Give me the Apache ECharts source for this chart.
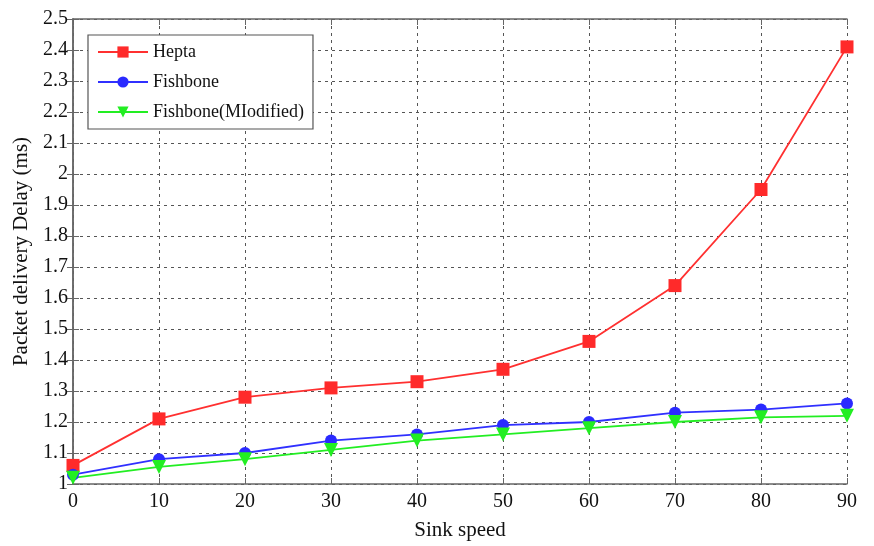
<!DOCTYPE html>
<html><head><meta charset="utf-8">
<script src="https://cdn.jsdelivr.net/npm/echarts@6/dist/echarts.min.js"></script>
<style>html,body{margin:0;padding:0;background:#fff}#c{width:874px;height:546px}</style>
</head><body><div id="c"></div>
<script>
const sinkSpeed = [0, 10, 20, 30, 40, 50, 60, 70, 80, 90];
const hepta = [1.06, 1.21, 1.28, 1.31, 1.33, 1.37, 1.46, 1.64, 1.95, 2.41];
const fishbone = [1.03, 1.08, 1.10, 1.14, 1.16, 1.19, 1.20, 1.23, 1.24, 1.26];
const fishboneMod = [1.02, 1.055, 1.08, 1.11, 1.14, 1.16, 1.18, 1.20, 1.215, 1.22];
const seriesNames = ['Hepta', 'Fishbone', 'Fishbone(MIodified)'];

const font = 'Liberation Serif';
const pair = (arr) => sinkSpeed.map((x, i) => [x, arr[i]]);
const chart = echarts.init(document.getElementById('c'));
const gridLine = {show: true, lineStyle: {color: '#555', type: [3, 4], width: 1}};
const axisLine = {show: true, lineStyle: {color: '#666', width: 1.5}};
chart.setOption({
  animation: false,
  textStyle: {fontFamily: font},
  grid: {left: 73, right: 27, top: 19, bottom: 61, show: false},
  legend: {
    orient: 'vertical', left: 88, top: 35,
    padding: [8, 9, 8, 9], itemGap: 12, itemWidth: 50, itemHeight: 14,
    borderColor: '#555', borderWidth: 1.2, backgroundColor: '#fff',
    textStyle: {fontFamily: font, fontSize: 18, color: '#111'},
    data: seriesNames
  },
  xAxis: [{
    type: 'value', min: 0, max: 90, interval: 10,
    name: 'Sink speed', nameLocation: 'middle', nameGap: 36,
    nameTextStyle: {fontFamily: font, fontSize: 21, color: '#111'},
    axisLine: axisLine, axisTick: {show: true, inside: true, length: 6, lineStyle: {color: '#666'}},
    axisLabel: {fontFamily: font, fontSize: 20, color: '#111', margin: 8},
    splitLine: gridLine
  }, {
    type: 'value', min: 0, max: 90, interval: 10, position: 'top',
    axisLine: axisLine, axisTick: {show: true, inside: true, length: 6, lineStyle: {color: '#666'}},
    axisLabel: {show: false}, splitLine: {show: false}
  }],
  yAxis: [{
    type: 'value', min: 1, max: 2.5, interval: 0.1,
    name: 'Packet delivery Delay (ms)', nameLocation: 'middle', nameGap: 37,
    nameTextStyle: {fontFamily: font, fontSize: 21, color: '#111'},
    axisLine: axisLine, axisTick: {show: true, inside: true, length: 6, lineStyle: {color: '#666'}},
    axisLabel: {fontFamily: font, fontSize: 20, color: '#111', margin: 5,
      formatter: v => String(Math.round(v * 10) / 10)},
    splitLine: gridLine
  }, {
    type: 'value', min: 1, max: 2.5, interval: 0.1, position: 'right',
    axisLine: axisLine, axisTick: {show: true, inside: true, length: 6, lineStyle: {color: '#666'}},
    axisLabel: {show: false}, splitLine: {show: false}
  }],
  series: [
    {name: seriesNames[0], type: 'line', data: pair(hepta), symbol: 'rect', symbolSize: 13,
     itemStyle: {color: '#ff2a2a'}, lineStyle: {color: '#ff3030', width: 1.8}},
    {name: seriesNames[1], type: 'line', data: pair(fishbone), symbol: 'circle', symbolSize: 12,
     itemStyle: {color: '#2a2aff'}, lineStyle: {color: '#3030ff', width: 1.8}},
    {name: seriesNames[2], type: 'line', data: pair(fishboneMod), symbol: 'triangle', symbolRotate: 180, symbolSize: 14,
     itemStyle: {color: '#22ee22'}, lineStyle: {color: '#22ee22', width: 1.8}}
  ]
});
</script></body></html>
